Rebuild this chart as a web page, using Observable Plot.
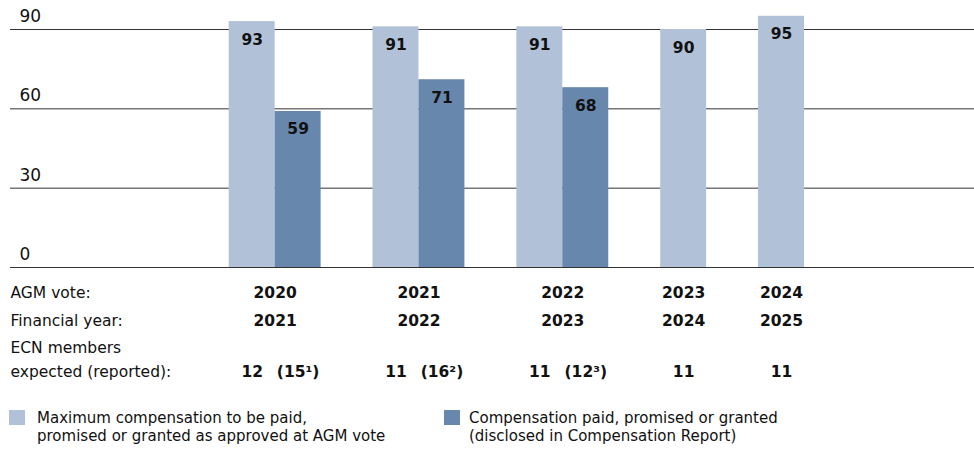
<!DOCTYPE html>
<html>
<head>
<meta charset="utf-8">
<script src="https://cdn.jsdelivr.net/npm/d3@7"></script>
<script src="https://cdn.jsdelivr.net/npm/@observablehq/plot@0.6"></script>
<style>
  html, body { margin: 0; padding: 0; background: #fff; }
  #chart svg { display: block; }
  .legend { position: relative; height: 55px; font-family: "DejaVu Sans", sans-serif; font-size: 15px; line-height: 18px; color: #111; }
  .item { position: absolute; top: 14px; }
  .sw { position: absolute; top: 1px; width: 16px; height: 15px; }
  .lbl { position: absolute; top: 0; white-space: pre; }
</style>
</head>
<body>
<div id="chart"></div>
<div class="legend" id="legend"></div>
<script>
// ---- data ----
const agmVote = ["2020", "2021", "2022", "2023", "2024"];
const financialYear = ["2021", "2022", "2023", "2024", "2025"];
const maxComp = [93, 91, 91, 90, 95];
const paidComp = [59, 71, 68, null, null];
const ecnExpected = ["12", "11", "11", "11", "11"];
const ecnReported = ["(15¹)", "(16²)", "(12³)", null, null];
const yTicks = [0, 30, 60, 90];
const rowLabels = ["AGM vote:", "Financial year:", "ECN members\nexpected (reported):"];
const seriesNames = [
  "Maximum compensation to be paid,\npromised or granted as approved at AGM vote",
  "Compensation paid, promised or granted\n(disclosed in Compensation Report)"
];
const colors = ["#b1c2d8", "#6887ad"];

// ---- layout in bar-width units ----
const GAP = 1.13;
let cursor = 0;
const groups = agmVote.map((agm, i) => {
  const n = paidComp[i] == null ? 1 : 2;
  const g = {agm, fy: financialYear[i], start: cursor, n, max: maxComp[i], paid: paidComp[i],
             exp: ecnExpected[i], rep: ecnReported[i]};
  cursor += n + GAP;
  return g;
});
const total = cursor - GAP;
const maxBars = groups.map(g => ({x1: g.start, x2: g.start + 1, value: g.max}));
const paidBars = groups.filter(g => g.paid != null).map(g => ({x1: g.start + 1, x2: g.start + 2, value: g.paid}));
const repRows = groups.filter(g => g.rep != null);
const center = g => g.start + g.n / 2;

const font = "DejaVu Sans";
const ink = "#111";
// table row baselines, pixels below the zero line
const rowDy = [30, 58.5, 109.5];

const rowLabelMarks = rowLabels.map((label, r) =>
  Plot.text([label], {y: 0, text: d => d, frameAnchor: "left", textAnchor: "start",
    lineAnchor: "bottom", lineHeight: 1.55, dy: rowDy[r], fontSize: 15.5, fill: ink}));

const bold = {lineAnchor: "bottom", fontSize: 15.5, fontWeight: "bold", fill: ink};

const chart = Plot.plot({
  width: 974,
  height: 395,
  marginLeft: 10,
  marginRight: 0,
  marginTop: 29,
  marginBottom: 128,
  style: {fontFamily: font, background: "#fff"},
  x: {type: "linear", domain: [0, total], range: [228.7, 804], axis: null},
  y: {domain: [0, 90], axis: null},
  marks: [
    Plot.ruleY(yTicks, {stroke: "#333", strokeWidth: 1}),
    Plot.rect(maxBars, {x1: "x1", x2: "x2", y1: 0, y2: "value", fill: colors[0]}),
    Plot.rect(paidBars, {x1: "x1", x2: "x2", y1: 0, y2: "value", fill: colors[1]}),
    // y tick labels
    Plot.text(yTicks, {y: d => d, text: d => String(d), frameAnchor: "left", textAnchor: "start",
      lineAnchor: "bottom", dx: 9, dy: -7.5, fontSize: 17, fill: ink}),
    // value labels
    Plot.text(maxBars, {x: d => (d.x1 + d.x2) / 2, y: "value", text: d => String(d.value), dy: 23, ...bold}),
    Plot.text(paidBars, {x: d => (d.x1 + d.x2) / 2, y: "value", text: d => String(d.value), dy: 23, ...bold}),
    // table
    ...rowLabelMarks,
    Plot.text(groups, {x: center, y: 0, text: "agm", dy: rowDy[0], ...bold}),
    Plot.text(groups, {x: center, y: 0, text: "fy", dy: rowDy[1], ...bold}),
    Plot.text(groups, {x: g => g.start + 0.5, y: 0, text: "exp", dy: rowDy[2], ...bold}),
    Plot.text(repRows, {x: g => g.start + 1.5, y: 0, text: "rep", dy: rowDy[2], ...bold}),
  ]
});
document.getElementById("chart").appendChild(chart);

// ---- legend ----
const legend = document.getElementById("legend");
const legendX = [9, 444];
seriesNames.forEach((name, i) => {
  const item = document.createElement("div");
  item.className = "item";
  item.style.left = legendX[i] + "px";
  const sw = document.createElement("div");
  sw.className = "sw";
  sw.style.background = colors[i];
  const lbl = document.createElement("div");
  lbl.className = "lbl";
  lbl.style.left = (i === 0 ? 28 : 25) + "px";
  lbl.textContent = name;
  item.appendChild(sw);
  item.appendChild(lbl);
  legend.appendChild(item);
});
</script>
</body>
</html>
